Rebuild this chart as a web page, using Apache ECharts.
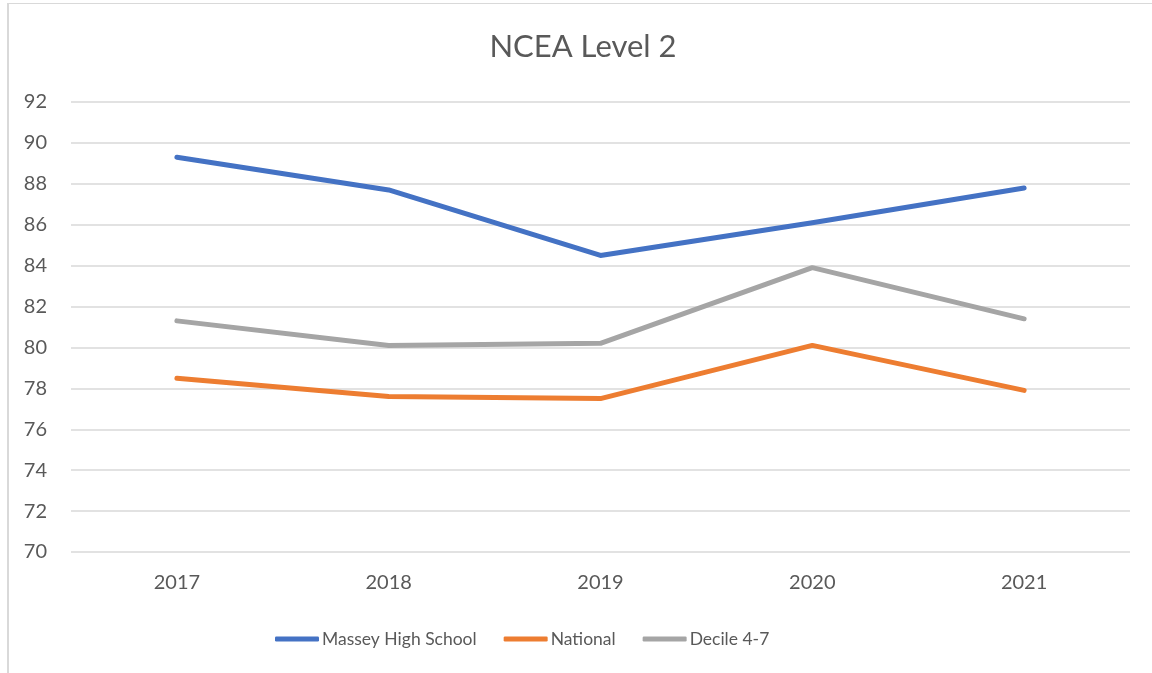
<!DOCTYPE html>
<html>
<head>
<meta charset="utf-8">
<script src="https://cdn.jsdelivr.net/npm/echarts@6/dist/echarts.min.js"></script>
<style>
  html, body { margin: 0; padding: 0; background: #fff; overflow: hidden; }
  #chart { position: absolute; left: 7px; top: 3px; width: 1150px; height: 670px;
           border-top: 1px solid #d9d9d9; border-left: 2px solid #d9d9d9; box-sizing: border-box; }
</style>
</head>
<body>
<div id="chart"></div>
<script>
const years = ['2017', '2018', '2019', '2020', '2021']
const massey = [89.3, 87.7, 84.5, 86.1, 87.8]
const national = [78.5, 77.6, 77.5, 80.1, 77.9]
const decile = [81.3, 80.1, 80.2, 83.9, 81.4]

const seriesDefs = [
  { name: 'Massey High School', data: massey, color: '#4472C4' },
  { name: 'National', data: national, color: '#ED7D31' },
  { name: 'Decile 4-7', data: decile, color: '#A5A5A5' },
]

const font = 'Lato, "Open Sans", sans-serif'
const chart = echarts.init(document.getElementById('chart'), null, { renderer: 'canvas' })
chart.setOption({
  backgroundColor: '#fff',
  animation: false,
  title: {
    text: 'NCEA Level 2',
    left: 'center', top: 22,
    textStyle: { color: '#595959', fontSize: 31, fontWeight: 'normal', fontFamily: font },
  },
  grid: { top: 98, bottom: 121, left: 62, right: 27, containLabel: false },
  legend: {
    top: 621, left: 261,
    itemWidth: 44, itemHeight: 5, itemGap: 27,
    textStyle: { color: '#595959', fontSize: 17.5, fontFamily: font, padding: [0, 0, 0, -2] },
    data: seriesDefs.map(s => ({ name: s.name, icon: 'roundRect' })),
  },
  xAxis: {
    type: 'category',
    data: years,
    boundaryGap: true,
    axisLine: { show: false },
    axisTick: { show: false },
    axisLabel: { color: '#595959', fontSize: 20, fontFamily: font, margin: 21 },
  },
  yAxis: {
    type: 'value',
    min: 70, max: 92, interval: 2,
    axisLine: { show: false },
    axisTick: { show: false },
    splitLine: { lineStyle: { color: '#d9d9d9', width: 1.5 } },
    axisLabel: { color: '#595959', fontSize: 20, fontFamily: font, margin: 24 },
  },
  series: seriesDefs.map(s => ({
    name: s.name,
    type: 'line',
    data: s.data,
    symbol: 'none',
    lineStyle: { color: s.color, width: 5, cap: 'round', join: 'round' },
    itemStyle: { color: s.color },
  })),
})
</script>
</body>
</html>
